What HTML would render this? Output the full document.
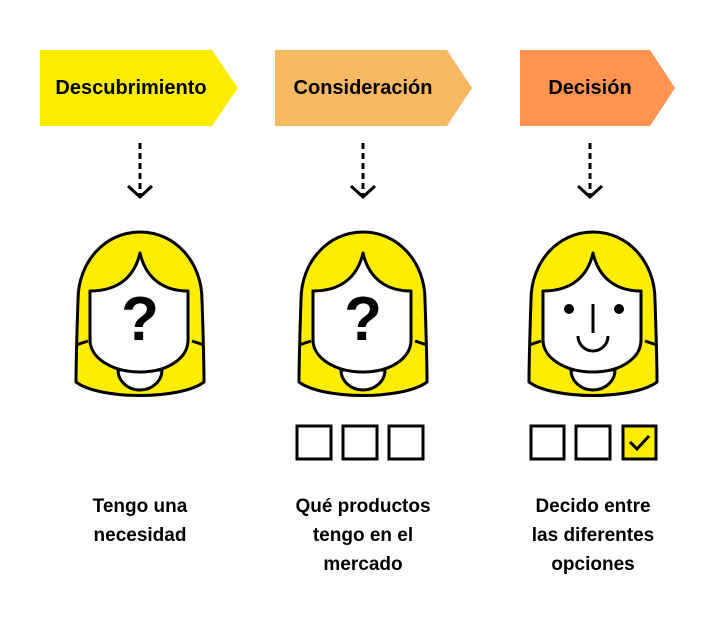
<!DOCTYPE html>
<html><head><style>
html,body{margin:0;padding:0;background:#fff;width:714px;height:620px;overflow:hidden}
svg{display:block}
text{font-family:"Liberation Sans",sans-serif;font-weight:bold;fill:#000}
</style></head><body>
<svg width="714" height="620" viewBox="0 0 714 620" xmlns="http://www.w3.org/2000/svg">
<defs>
<g id="head">
  <path d="M-64,382 C-64,360 -63,330 -62,300 C-62,262 -35,232 0,232 C35,232 62,262 62,300 C63,330 64,360 64,382 C40,400 -40,400 -64,382 Z" fill="#FFED00" stroke="#000" stroke-width="3" stroke-linejoin="round"/>
  <path d="M-22,370 A22,20 0 0 0 22,370 Z" fill="#fff" stroke="#000" stroke-width="3"/>
  <path d="M-50,291 C-20,291 -5,275 0,253 C5,275 20,291 48,291 L48,340 C48,358 28,372 0,372 C-28,372 -50,358 -50,340 Z" fill="#fff" stroke="#000" stroke-width="3" stroke-linejoin="round"/>
  <path d="M-64,345 L-52,341 M64,345 L52,341" stroke="#000" stroke-width="3"/>
</g>
<g id="arrow">
  <path d="M0,143 L0,196" stroke="#000" stroke-width="3" stroke-dasharray="6,4"/>
  <path d="M-12,186 L0,197 L12,186" fill="none" stroke="#000" stroke-width="3"/>
</g>
</defs>
<polygon points="40,50 212,50 238,88 212,126 40,126" fill="#FFED00"/>
<polygon points="275,50 447,50 472,88 447,126 275,126" fill="#F9B862"/>
<polygon points="520,50 650,50 675,88 650,126 520,126" fill="#FF9350"/>
<text x="131" y="94" font-size="20" text-anchor="middle">Descubrimiento</text>
<text x="363" y="94" font-size="20" text-anchor="middle">Consideración</text>
<text x="590" y="94" font-size="20" text-anchor="middle">Decisión</text>
<use href="#arrow" x="140"/>
<use href="#arrow" x="363"/>
<use href="#arrow" x="590"/>
<use href="#head" x="140"/>
<use href="#head" x="363"/>
<use href="#head" x="593"/>
<text x="140" y="340" font-size="62" text-anchor="middle">?</text>
<text x="363" y="340" font-size="62" text-anchor="middle">?</text>
<circle cx="569" cy="309" r="5"/>
<circle cx="619" cy="309" r="5"/>
<path d="M593,304 L593,333" stroke="#000" stroke-width="3"/>
<path d="M578,336 A15,15 0 0 0 608,336" fill="none" stroke="#000" stroke-width="3"/>
<g fill="#fff" stroke="#000" stroke-width="3">
<rect x="297" y="426" width="34" height="33"/>
<rect x="343" y="426" width="34" height="33"/>
<rect x="389" y="426" width="34" height="33"/>
<rect x="531" y="426" width="33" height="33"/>
<rect x="576" y="426" width="34" height="33"/>
<rect x="623" y="426" width="33" height="33" fill="#FFED00"/>
</g>
<path d="M630,442 L637,449 L649,436" fill="none" stroke="#000" stroke-width="3"/>
<g font-size="19" text-anchor="middle">
<text x="140" y="512">Tengo una</text>
<text x="140" y="541">necesidad</text>
<text x="363" y="512">Qué productos</text>
<text x="363" y="541">tengo en el</text>
<text x="363" y="570">mercado</text>
<text x="593" y="512">Decido entre</text>
<text x="593" y="541">las diferentes</text>
<text x="593" y="570">opciones</text>
</g>
</svg>
</body></html>
